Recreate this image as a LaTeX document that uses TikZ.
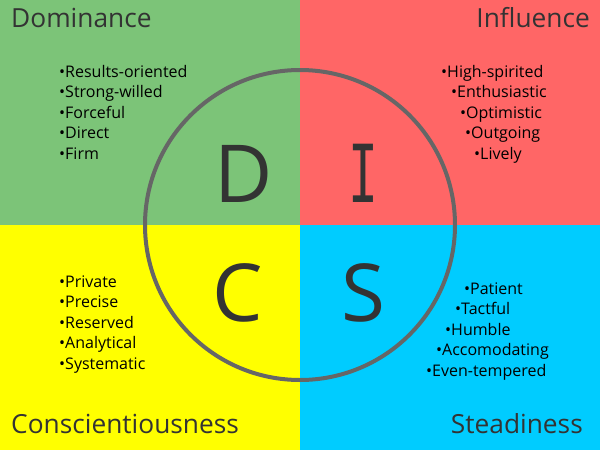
\documentclass[tikz,border=0pt]{standalone}
\usepackage{fontspec}
\setmainfont{Open Sans}
\newfontfamily\monofam{DejaVu Sans Mono}
\definecolor{qgreen}{RGB}{124,196,120}
\definecolor{qred}{RGB}{255,102,102}
\definecolor{qyellow}{RGB}{255,255,0}
\definecolor{qcyan}{RGB}{0,204,255}
\definecolor{ring}{RGB}{102,102,102}
\definecolor{ink}{RGB}{51,51,51}
\tikzset{
  title/.style={inner sep=0pt, font=\fontsize{26.3}{30}\selectfont, text=ink},
  item/.style={inner sep=0pt, anchor=base west, font=\fontsize{16}{18}\selectfont, text=black},
  big/.style={inner sep=0pt, anchor=base, font=\fontsize{80}{90}\selectfont, text=ink},
}
\begin{document}
\begin{tikzpicture}[x=1pt,y=-1pt]
\useasboundingbox (0,0) rectangle (600,450);
\fill[qgreen] (0,0) rectangle (300,225);
\fill[qred] (300,0) rectangle (600,225);
\fill[qyellow] (0,225) rectangle (300,450);
\fill[qcyan] (300,225) rectangle (600,450);
\draw[ring, line width=4pt] (300,225) circle (155pt);

\node[title, anchor=base west] (tD) at (11,27) {Dominance};
\node[title, anchor=base east] (tI) at (590,27) {Influence};
\node[title, anchor=base west] (tC) at (11,433) {Conscientiousness};
\node[title, anchor=base east] (tS) at (583,433) {Steadiness};

\node[big] (D) at (243.5,202) {D};
\node[big, font=\monofam\fontsize{80}{90}\selectfont] (I) at (363,202) {\scalebox{0.62}[1]{I}};
\node[big] (C) at (238,321) {C};
\node[big] (S) at (363,321) {S};

\node[item] (d1) at (59,77) {•Results-oriented};
\node[item] (d2) at (59,97.5) {•Strong-willed};
\node[item] (d3) at (59,118) {•Forceful};
\node[item] (d4) at (59,138.5) {•Direct};
\node[item] (d5) at (59,159) {•Firm};

\node[item] (i1) at (441,77) {•High-spirited};
\node[item] (i2) at (451,97.5) {•Enthusiastic};
\node[item] (i3) at (460,118) {•Optimistic};
\node[item] (i4) at (465,138.5) {•Outgoing};
\node[item] (i5) at (474,159) {•Lively};

\node[item] (c1) at (59,287) {•Private};
\node[item] (c2) at (59,307.5) {•Precise};
\node[item] (c3) at (59,328) {•Reserved};
\node[item] (c4) at (59,348.5) {•Analytical};
\node[item] (c5) at (59,369) {•Systematic};

\node[item] (s1) at (464,294) {•Patient};
\node[item] (s2) at (455,314.5) {•Tactful};
\node[item] (s3) at (445,335) {•Humble};
\node[item] (s4) at (436,355.5) {•Accomodating};
\node[item] (s5) at (426,376) {•Even-tempered};
\end{tikzpicture}
\end{document}
